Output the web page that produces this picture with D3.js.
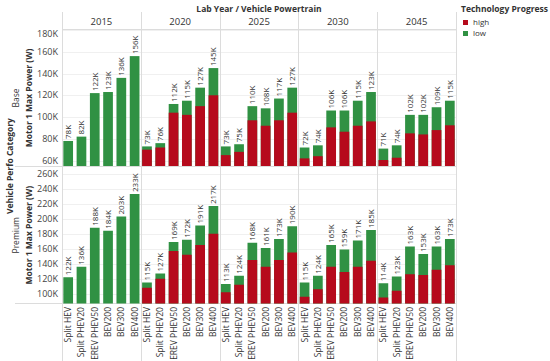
<!DOCTYPE html>
<html>
<head>
<meta charset="utf-8">
<script src="https://cdn.jsdelivr.net/npm/d3@7"></script>
<style>
  body { margin: 0; background: #fff; }
  text { font-family: "Open Sans", sans-serif; }
</style>
</head>
<body>
<div id="chart"></div>
<script>
// data (values in K watts)
const years = ["2015", "2020", "2025", "2030", "2045"];
const powertrains = ["Split HEV", "Split PHEV20", "EREV PHEV50", "BEV200", "BEV300", "BEV400"];
const categories = ["Base", "Premium"];
const progress = ["high", "low"];

const baseLow = [
    [78, 82, 122, 123, 136, 156],
    [73, 76, 112, 115, 127, 145],
    [73, 75, 110, 108, 117, 127],
    [72, 74, 106, 106, 115, 123],
    [71, 74, 102, 102, 109, 115]
];
const baseHigh = [
    null,
    [70, 72, 104, 102, 110, 120],
    [65, 68, 97, 92, 97, 104],
    [62, 64, 90.5, 86.5, 92, 96],
    [60.5, 62.6, 85, 84, 88, 92.4]
];
const premiumLow = [
    [122, 136, 188, 184, 203, 233],
    [115, 127, 169, 172, 191, 217],
    [113, 124, 168, 161, 173, 190],
    [115, 124, 165, 159, 171, 185],
    [114, 123, 163, 153, 163, 173]
];
const premiumHigh = [
    null,
    [108, 120, 157, 152, 165, 180],
    [102, 112, 145, 136, 145, 155],
    [96, 106, 136, 129, 136, 144],
    [95, 104, 126, 125, 132, 138]
];
const baseTicks = [60, 80, 100, 120, 140, 160, 180];
const premiumTicks = [100, 120, 140, 160, 180, 200, 220, 240, 260];

var width = 550, height = 361;
var colors = { high: "#b60a1c", low: "#309143" };
var lineColor = "#dcdcdc";

var svg = d3.select("#chart")
    .append("svg")
    .attr("width", width)
    .attr("height", height);

var plotLeft = 62, plotRight = 456;

var xYear = d3.scaleBand()
    .domain(years)
    .range([plotLeft, plotRight]);

var xPt = d3.scaleBand()
    .domain(powertrains)
    .range([0, xYear.bandwidth()])
    .paddingInner(0.27)
    .paddingOuter(0.1);

var rows = [
    { name: categories[0], low: baseLow, high: baseHigh, ticks: baseTicks,
      y: d3.scaleLinear().domain([55, 180]).range([166, 30]) },
    { name: categories[1], low: premiumLow, high: premiumHigh, ticks: premiumTicks,
      y: d3.scaleLinear().domain([87, 269]).range([303.5, 167]) }
];

// gridlines
rows.forEach(function (r) {
    svg.append("g")
        .selectAll("line")
        .data(r.ticks)
        .enter()
        .append("line")
        .attr("x1", plotLeft)
        .attr("x2", plotRight)
        .attr("y1", function (d) { return Math.round(r.y(d)) + 0.5; })
        .attr("y2", function (d) { return Math.round(r.y(d)) + 0.5; })
        .attr("stroke", "#f0f0f0");
});

// vertical column dividers
svg.append("g")
    .selectAll("line")
    .data(years.concat(["end"]))
    .enter()
    .append("line")
    .attr("x1", function (d, i) { return Math.round(plotLeft + i * xYear.bandwidth()) + 0.5; })
    .attr("x2", function (d, i) { return Math.round(plotLeft + i * xYear.bandwidth()) + 0.5; })
    .attr("y1", 12)
    .attr("y2", height)
    .attr("stroke", lineColor);

// horizontal dividers
[29.5, 166.5, 303.5].forEach(function (yy, i) {
    svg.append("line")
        .attr("x1", i === 0 ? 62 : 15)
        .attr("x2", plotRight)
        .attr("y1", yy)
        .attr("y2", yy)
        .attr("stroke", lineColor);
});

// title
svg.append("text")
    .attr("x", 259)
    .attr("y", 12)
    .attr("text-anchor", "middle")
    .attr("font-size", "8.5px")
    .attr("font-weight", "bold")
    .attr("fill", "#333")
    .text("Lab Year  /  Vehicle Powertrain");

// year headers
svg.append("g")
    .selectAll("text")
    .data(years)
    .enter()
    .append("text")
    .attr("x", function (d) { return xYear(d) + xYear.bandwidth() / 2; })
    .attr("y", 25)
    .attr("text-anchor", "middle")
    .attr("font-size", "9.5px")
    .attr("fill", "#333")
    .text(function (d) { return d; });

// row axis titles
svg.append("text")
    .attr("transform", "translate(13," + 166 + ") rotate(-90)")
    .attr("text-anchor", "middle")
    .attr("font-size", "8.5px")
    .attr("font-weight", "bold")
    .attr("fill", "#333")
    .text("Vehicle Perfo Category");

rows.forEach(function (r) {
    var yMid = (r.y.range()[0] + r.y.range()[1]) / 2;

    svg.append("text")
        .attr("transform", "translate(19," + yMid + ") rotate(-90)")
        .attr("text-anchor", "middle")
        .attr("font-size", "8.5px")
        .attr("fill", "#333")
        .text(r.name);

    svg.append("text")
        .attr("transform", "translate(32," + yMid + ") rotate(-90)")
        .attr("text-anchor", "middle")
        .attr("font-size", "8.5px")
        .attr("font-weight", "bold")
        .attr("fill", "#333")
        .text("Motor 1 Max Power (W)");

    // y tick labels
    var top = r.y.range()[1];
    svg.append("g")
        .selectAll("text")
        .data(r.ticks)
        .enter()
        .append("text")
        .attr("x", 58)
        .attr("y", function (d) { return Math.max(r.y(d), top + 4); })
        .attr("dy", "0.35em")
        .attr("text-anchor", "end")
        .attr("font-size", "9px")
        .attr("fill", "#444")
        .text(function (d) { return d + "K"; });

    // bars: low drawn first, high overlaid from the same baseline
    years.forEach(function (yr, yi) {
        var g = svg.append("g")
            .attr("transform", "translate(" + xYear(yr) + ",0)");
        var base = r.y.range()[0];

        g.selectAll(".low")
            .data(r.low[yi])
            .enter()
            .append("rect")
            .attr("class", "low")
            .attr("x", function (d, i) { return xPt(powertrains[i]); })
            .attr("width", xPt.bandwidth())
            .attr("y", function (d) { return r.y(d); })
            .attr("height", function (d) { return base - r.y(d); })
            .attr("fill", colors.low);

        if (r.high[yi]) {
            g.selectAll(".high")
                .data(r.high[yi])
                .enter()
                .append("rect")
                .attr("class", "high")
                .attr("x", function (d, i) { return xPt(powertrains[i]); })
                .attr("width", xPt.bandwidth())
                .attr("y", function (d) { return r.y(d); })
                .attr("height", function (d) { return base - r.y(d); })
                .attr("fill", colors.high);
        }

        g.selectAll(".lbl")
            .data(r.low[yi])
            .enter()
            .append("text")
            .attr("class", "lbl")
            .attr("transform", function (d, i) {
                return "translate(" + (xPt(powertrains[i]) + xPt.bandwidth() / 2 + 3) + "," + (r.y(d) - 2) + ") rotate(-90)";
            })
            .attr("font-size", "8px")
            .attr("fill", "#333")
            .text(function (d) { return d + "K"; });
    });
});

// x labels
years.forEach(function (yr) {
    svg.append("g")
        .selectAll("text")
        .data(powertrains)
        .enter()
        .append("text")
        .attr("transform", function (d) {
            return "translate(" + (xYear(yr) + xPt(d) + xPt.bandwidth() / 2 + 3) + ",307) rotate(-90)";
        })
        .attr("text-anchor", "end")
        .attr("font-size", "8.5px")
        .attr("fill", "#333")
        .text(function (d) { return d; });
});

// legend
svg.append("text")
    .attr("x", 461)
    .attr("y", 12)
    .attr("font-size", "8.5px")
    .attr("font-weight", "bold")
    .attr("fill", "#333")
    .text("Technology Progress");

var leg = svg.append("g")
    .selectAll("g")
    .data(progress)
    .enter()
    .append("g")
    .attr("transform", function (d, i) { return "translate(463," + (20 + i * 11) + ")"; });

leg.append("rect")
    .attr("width", 5)
    .attr("height", 5)
    .attr("fill", function (d) { return colors[d]; });

leg.append("text")
    .attr("x", 10)
    .attr("y", 2.5)
    .attr("dy", "0.35em")
    .attr("font-size", "8px")
    .attr("fill", "#333")
    .text(function (d) { return d; });
</script>
</body>
</html>
